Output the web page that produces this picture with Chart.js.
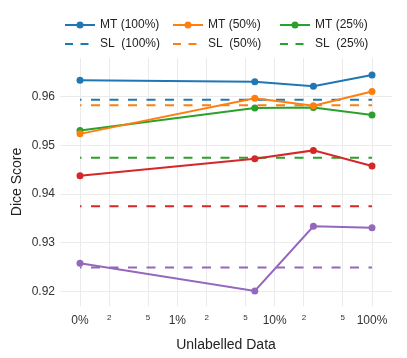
<!DOCTYPE html>
<html>
<head>
<meta charset="utf-8">
<script src="https://cdn.jsdelivr.net/npm/chart.js@4/dist/chart.umd.min.js"></script>
<style>
  body { margin: 0; background: #fff; }
</style>
</head>
<body>
<canvas id="myChart" width="407" height="358"></canvas>
<script>
// 0% is drawn at 0.1 on the log axis
const fractions = [0.1, 6.25, 25, 100];
const mt100 = [0.9634, 0.9631, 0.9622, 0.9645];
const mt50 = [0.9524, 0.9597, 0.9582, 0.9611];
const mt25 = [0.9531, 0.9577, 0.9578, 0.9563];
const mt10 = [0.9438, 0.9473, 0.9490, 0.9458];
const mt5 = [0.9258, 0.9201, 0.9334, 0.9331];
const slScores = [0.9594, 0.9583, 0.9475, 0.9375, 0.9249];
const slSpan = [0.1, 100];

const names = ['100%', '50%', '25%', '10%', '5%'];
const colors = ['#1f77b4', '#ff7f0e', '#2ca02c', '#d62728', '#9467bd'];
const xTicks = [0.1, 0.2, 0.5, 1, 2, 5, 10, 20, 50, 100];
const xTickLabels = ['0%', '2', '5', '1%', '2', '5', '10%', '2', '5', '100%'];
const yTicks = [0.92, 0.93, 0.94, 0.95, 0.96];

const mtSeries = [mt100, mt50, mt25, mt10, mt5];

const datasets = [];
mtSeries.forEach((s, i) => {
    datasets.push({
        label: 'MT (' + names[i] + ')',
        kind: 'mt',
        data: s.map((v, j) => ({x: fractions[j], y: v})),
        borderColor: colors[i],
        backgroundColor: colors[i],
        borderWidth: 2,
        pointRadius: 3.5,
        pointHoverRadius: 3.5,
        pointBorderWidth: 0,
        order: 1
    });
});
slScores.forEach((v, i) => {
    datasets.push({
        label: 'SL  (' + names[i] + ')',
        kind: 'sl',
        data: slSpan.map(x => ({x: x, y: v})),
        borderColor: colors[i],
        backgroundColor: colors[i],
        borderWidth: 2,
        borderDash: [9, 9.5],
        borderDashOffset: 7.5,
        pointRadius: 0,
        order: 2
    });
});

// legend in a 3 x 2 grid, only the first three of each kind
const gridLegend = {
    id: 'gridLegend',
    afterDraw(chart) {
        const c = chart.ctx;
        const cols = [65, 173, 280];
        const rows = [25, 44];
        c.save();
        c.font = '12px "Liberation Sans", Arial, sans-serif';
        c.textBaseline = 'middle';
        c.fillStyle = '#222';
        ['mt', 'sl'].forEach((kind, r) => {
            const ds = chart.data.datasets.filter(d => d.kind === kind).slice(0, 3);
            ds.forEach((d, k) => {
                const x = cols[k], y = rows[r];
                c.strokeStyle = d.borderColor;
                c.lineWidth = 2;
                c.beginPath();
                if (kind === 'sl') c.setLineDash([8, 7.5]);
                else c.setLineDash([]);
                c.moveTo(x, y);
                c.lineTo(x + 30, y);
                c.stroke();
                c.setLineDash([]);
                if (kind === 'mt') {
                    c.fillStyle = d.borderColor;
                    c.beginPath();
                    c.arc(x + 15, y, 3.5, 0, Math.PI * 2);
                    c.fill();
                }
                c.fillStyle = '#222';
                c.fillText(d.label, x + 35, y);
            });
        });
        c.restore();
    }
};

Chart.defaults.font.family = '"Liberation Sans", Arial, sans-serif';

var myChart = new Chart(document.getElementById('myChart').getContext('2d'), {
    type: 'line',
    data: { datasets: datasets },
    options: {
        responsive: false,
        animation: false,
        layout: { padding: { top: 58, right: 15, left: 0, bottom: 0 } },
        plugins: {
            legend: { display: false },
            tooltip: { enabled: false }
        },
        scales: {
            x: {
                type: 'logarithmic',
                min: 0.0623,
                max: 160.5,
                afterBuildTicks: axis => { axis.ticks = xTicks.map(v => ({value: v})); },
                afterFit: axis => { axis.height = 52; },
                border: { display: false },
                grid: { color: '#ebebeb', lineWidth: 1, drawTicks: false },
                ticks: {
                    padding: 7,
                    color: '#333',
                    maxRotation: 0,
                    autoSkip: false,
                    font: c => ({ size: (c.index % 3 === 0) ? 12 : 8 }),
                    callback: (v, i) => xTickLabels[i]
                },
                title: {
                    display: true,
                    text: 'Unlabelled Data',
                    color: '#222',
                    font: { size: 14 },
                    padding: { top: 0, bottom: 4 }
                }
            },
            y: {
                min: 0.917,
                max: 0.968,
                afterBuildTicks: axis => { axis.ticks = yTicks.map(v => ({value: v})); },
                afterFit: axis => { axis.width = 60; },
                border: { display: false },
                grid: { color: '#ebebeb', lineWidth: 1, drawTicks: false },
                ticks: {
                    padding: 5,
                    color: '#333',
                    font: { size: 12 },
                    callback: v => v.toFixed(2)
                },
                title: {
                    display: true,
                    text: 'Dice Score',
                    color: '#222',
                    font: { size: 14 },
                    padding: { top: 9, bottom: 0 }
                }
            }
        }
    },
    plugins: [gridLegend]
});
</script>
</body>
</html>
